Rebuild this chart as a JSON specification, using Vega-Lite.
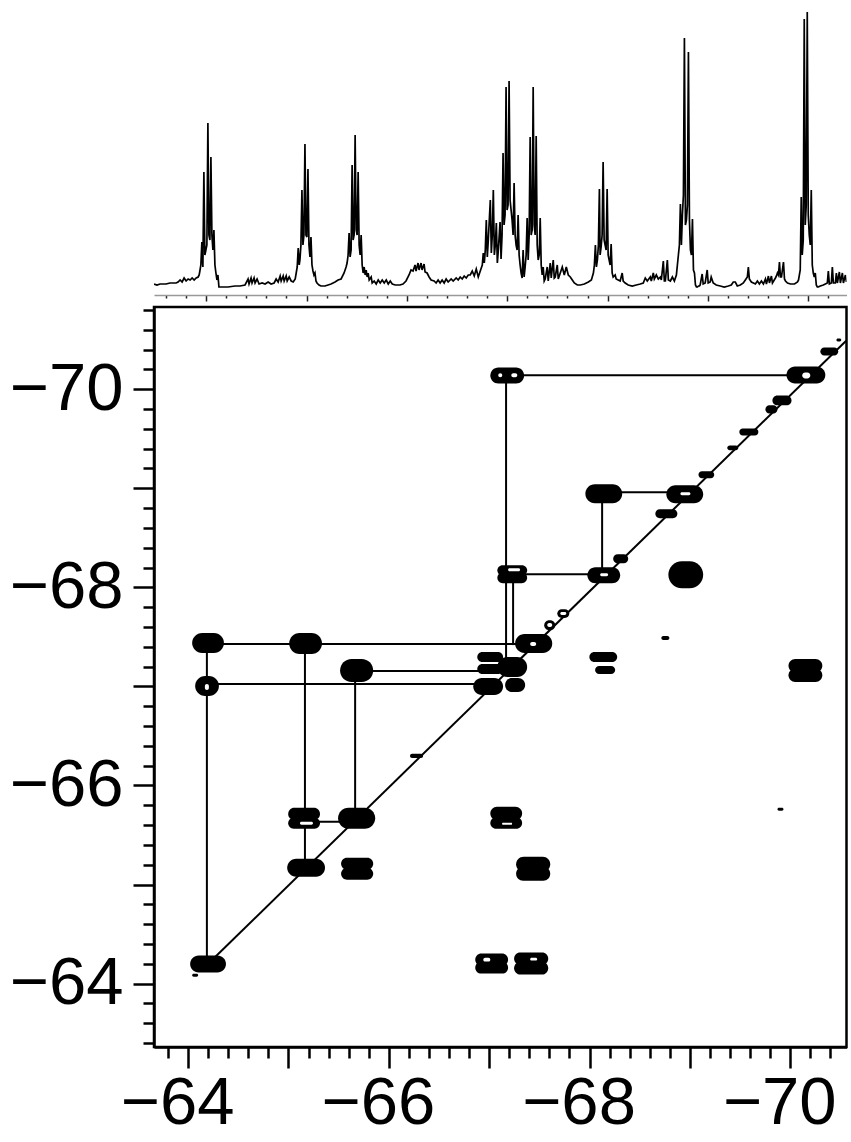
{"$schema":"https://vega.github.io/schema/vega-lite/v6.json","background":"white","padding":{"left":8,"top":0,"right":0,"bottom":0},"spacing":-28,"config":{"font":"Liberation Sans"},
"datasets":{"spectrum":[
{"ppm":-63.66,"i":11},{"ppm":-63.69,"i":10},{"ppm":-63.72,"i":11},{"ppm":-63.75,"i":11},{"ppm":-63.78,"i":11},{"ppm":-63.82,"i":12},{"ppm":-63.85,"i":12},{"ppm":-63.88,"i":12},{"ppm":-63.90,"i":13},{"ppm":-63.92,"i":15},{"ppm":-63.94,"i":13},{"ppm":-63.96,"i":17},{"ppm":-63.98,"i":14},{"ppm":-64.00,"i":16},{"ppm":-64.02,"i":15},{"ppm":-64.04,"i":17},{"ppm":-64.06,"i":15},{"ppm":-64.08,"i":17},{"ppm":-64.10,"i":18},{"ppm":-64.11,"i":20},
{"ppm":-64.117,"i":24},{"ppm":-64.127,"i":30},{"ppm":-64.137,"i":53},{"ppm":-64.147,"i":28},{"ppm":-64.157,"i":123},{"ppm":-64.167,"i":40},{"ppm":-64.177,"i":45},{"ppm":-64.187,"i":50},{"ppm":-64.197,"i":172},{"ppm":-64.207,"i":60},{"ppm":-64.217,"i":55},{"ppm":-64.227,"i":138},{"ppm":-64.237,"i":60},{"ppm":-64.247,"i":45},{"ppm":-64.257,"i":65},{"ppm":-64.267,"i":30},{"ppm":-64.277,"i":22},{"ppm":-64.287,"i":15},{"ppm":-64.297,"i":20},{"ppm":-64.307,"i":8},
{"ppm":-64.337,"i":8},{"ppm":-64.397,"i":8},{"ppm":-64.467,"i":9},{"ppm":-64.517,"i":9},{"ppm":-64.567,"i":10},{"ppm":-64.597,"i":16},{"ppm":-64.607,"i":11},{"ppm":-64.627,"i":17},{"ppm":-64.637,"i":12},{"ppm":-64.657,"i":17},{"ppm":-64.667,"i":12},{"ppm":-64.687,"i":16},{"ppm":-64.707,"i":11},{"ppm":-64.737,"i":12},{"ppm":-64.767,"i":11},{"ppm":-64.797,"i":13},{"ppm":-64.827,"i":11},{"ppm":-64.857,"i":12},{"ppm":-64.877,"i":16},{"ppm":-64.897,"i":13},{"ppm":-64.917,"i":19},{"ppm":-64.927,"i":14},{"ppm":-64.947,"i":19},{"ppm":-64.957,"i":14},{"ppm":-64.977,"i":19},{"ppm":-64.987,"i":14},{"ppm":-65.007,"i":18},{"ppm":-65.027,"i":14},{"ppm":-65.047,"i":13},{"ppm":-65.067,"i":16},
{"ppm":-65.077,"i":22},{"ppm":-65.087,"i":28},{"ppm":-65.097,"i":47},{"ppm":-65.107,"i":30},{"ppm":-65.114,"i":35},{"ppm":-65.124,"i":50},{"ppm":-65.134,"i":105},{"ppm":-65.144,"i":50},{"ppm":-65.154,"i":60},{"ppm":-65.164,"i":151},{"ppm":-65.174,"i":60},{"ppm":-65.184,"i":58},{"ppm":-65.194,"i":126},{"ppm":-65.204,"i":50},{"ppm":-65.214,"i":38},{"ppm":-65.224,"i":58},{"ppm":-65.234,"i":30},{"ppm":-65.244,"i":24},{"ppm":-65.254,"i":20},{"ppm":-65.264,"i":22},{"ppm":-65.274,"i":14},{"ppm":-65.284,"i":12},{"ppm":-65.304,"i":10},{"ppm":-65.324,"i":9},{"ppm":-65.364,"i":9},{"ppm":-65.394,"i":10},{"ppm":-65.424,"i":11},{"ppm":-65.464,"i":13},{"ppm":-65.494,"i":15},{"ppm":-65.524,"i":16},{"ppm":-65.554,"i":22},{"ppm":-65.574,"i":28},{"ppm":-65.584,"i":32},{"ppm":-65.594,"i":40},{"ppm":-65.604,"i":62},{"ppm":-65.614,"i":38},{"ppm":-65.624,"i":45},{"ppm":-65.634,"i":130},{"ppm":-65.644,"i":55},{"ppm":-65.654,"i":60},{"ppm":-65.664,"i":160},{"ppm":-65.674,"i":65},{"ppm":-65.684,"i":60},{"ppm":-65.694,"i":123},{"ppm":-65.704,"i":50},{"ppm":-65.714,"i":40},{"ppm":-65.724,"i":60},{"ppm":-65.734,"i":30},{"ppm":-65.744,"i":22},{"ppm":-65.754,"i":28},{"ppm":-65.764,"i":20},{"ppm":-65.774,"i":25},{"ppm":-65.784,"i":18},{"ppm":-65.794,"i":22},{"ppm":-65.804,"i":15},{"ppm":-65.824,"i":18},{"ppm":-65.834,"i":12},{"ppm":-65.854,"i":14},{"ppm":-65.874,"i":11},{"ppm":-65.894,"i":15},{"ppm":-65.914,"i":12},{"ppm":-65.934,"i":15},{"ppm":-65.954,"i":12},{"ppm":-65.974,"i":15},{"ppm":-65.994,"i":11},{"ppm":-66.014,"i":14},{"ppm":-66.034,"i":11},{"ppm":-66.064,"i":10},
{"ppm":-66.111,"i":10},{"ppm":-66.141,"i":11},{"ppm":-66.171,"i":14},{"ppm":-66.201,"i":20},{"ppm":-66.221,"i":25},{"ppm":-66.241,"i":24},{"ppm":-66.261,"i":30},{"ppm":-66.271,"i":24},{"ppm":-66.291,"i":32},{"ppm":-66.301,"i":25},{"ppm":-66.321,"i":32},{"ppm":-66.331,"i":25},{"ppm":-66.351,"i":31},{"ppm":-66.361,"i":23},{"ppm":-66.381,"i":22},{"ppm":-66.401,"i":18},{"ppm":-66.421,"i":15},{"ppm":-66.451,"i":14},{"ppm":-66.471,"i":12},{"ppm":-66.491,"i":15},{"ppm":-66.511,"i":12},{"ppm":-66.531,"i":15},{"ppm":-66.551,"i":12},{"ppm":-66.571,"i":16},{"ppm":-66.591,"i":13},{"ppm":-66.621,"i":16},{"ppm":-66.641,"i":14},{"ppm":-66.671,"i":17},{"ppm":-66.691,"i":15},{"ppm":-66.711,"i":18},{"ppm":-66.731,"i":16},{"ppm":-66.751,"i":19},{"ppm":-66.771,"i":17},{"ppm":-66.791,"i":20},{"ppm":-66.811,"i":20},{"ppm":-66.831,"i":24},{"ppm":-66.851,"i":19},{"ppm":-66.871,"i":26},{"ppm":-66.891,"i":18},{"ppm":-66.911,"i":24},{"ppm":-66.931,"i":30},{"ppm":-66.941,"i":42},{"ppm":-66.951,"i":32},{"ppm":-66.961,"i":45},{"ppm":-66.971,"i":75},{"ppm":-66.981,"i":38},{"ppm":-66.991,"i":55},{"ppm":-67.011,"i":95},{"ppm":-67.021,"i":42},{"ppm":-67.031,"i":60},{"ppm":-67.041,"i":105},{"ppm":-67.051,"i":40},{"ppm":-67.061,"i":50},{"ppm":-67.071,"i":72},{"ppm":-67.081,"i":32},{"ppm":-67.091,"i":45},
{"ppm":-67.108,"i":73},{"ppm":-67.118,"i":36},{"ppm":-67.128,"i":60},{"ppm":-67.138,"i":142},{"ppm":-67.148,"i":70},{"ppm":-67.158,"i":80},{"ppm":-67.168,"i":208},{"ppm":-67.178,"i":85},{"ppm":-67.188,"i":90},{"ppm":-67.198,"i":214},{"ppm":-67.208,"i":95},{"ppm":-67.218,"i":85},{"ppm":-67.228,"i":75},{"ppm":-67.238,"i":60},{"ppm":-67.248,"i":112},{"ppm":-67.258,"i":60},{"ppm":-67.268,"i":50},{"ppm":-67.278,"i":45},{"ppm":-67.288,"i":80},{"ppm":-67.298,"i":40},{"ppm":-67.308,"i":30},{"ppm":-67.318,"i":22},{"ppm":-67.328,"i":17},{"ppm":-67.338,"i":45},{"ppm":-67.348,"i":18},{"ppm":-67.358,"i":28},{"ppm":-67.368,"i":40},{"ppm":-67.378,"i":77},{"ppm":-67.388,"i":35},{"ppm":-67.398,"i":60},{"ppm":-67.408,"i":158},{"ppm":-67.418,"i":60},{"ppm":-67.428,"i":65},{"ppm":-67.438,"i":208},{"ppm":-67.448,"i":70},{"ppm":-67.458,"i":60},{"ppm":-67.468,"i":159},{"ppm":-67.478,"i":50},{"ppm":-67.488,"i":35},{"ppm":-67.498,"i":40},{"ppm":-67.508,"i":77},{"ppm":-67.518,"i":30},{"ppm":-67.528,"i":20},{"ppm":-67.538,"i":28},{"ppm":-67.548,"i":14},{"ppm":-67.558,"i":16},{"ppm":-67.578,"i":28},{"ppm":-67.588,"i":14},{"ppm":-67.608,"i":32},{"ppm":-67.618,"i":17},{"ppm":-67.638,"i":35},{"ppm":-67.648,"i":17},{"ppm":-67.658,"i":18},{"ppm":-67.678,"i":30},{"ppm":-67.688,"i":16},{"ppm":-67.708,"i":22},{"ppm":-67.728,"i":28},{"ppm":-67.748,"i":20},{"ppm":-67.768,"i":28},{"ppm":-67.788,"i":20},{"ppm":-67.808,"i":18},{"ppm":-67.828,"i":15},{"ppm":-67.848,"i":12},{"ppm":-67.878,"i":10},{"ppm":-67.908,"i":10},{"ppm":-67.948,"i":11},{"ppm":-67.988,"i":13},{"ppm":-68.018,"i":15},{"ppm":-68.038,"i":22},{"ppm":-68.048,"i":30},{"ppm":-68.058,"i":50},{"ppm":-68.068,"i":28},{"ppm":-68.078,"i":35},{"ppm":-68.088,"i":50},{"ppm":-68.098,"i":106},
{"ppm":-68.105,"i":40},{"ppm":-68.115,"i":48},{"ppm":-68.125,"i":60},{"ppm":-68.135,"i":133},{"ppm":-68.145,"i":55},{"ppm":-68.155,"i":50},{"ppm":-68.165,"i":45},{"ppm":-68.175,"i":106},{"ppm":-68.185,"i":40},{"ppm":-68.195,"i":35},{"ppm":-68.205,"i":30},{"ppm":-68.215,"i":51},{"ppm":-68.225,"i":22},{"ppm":-68.235,"i":18},{"ppm":-68.255,"i":20},{"ppm":-68.265,"i":16},{"ppm":-68.285,"i":15},{"ppm":-68.305,"i":14},{"ppm":-68.325,"i":22},{"ppm":-68.335,"i":14},{"ppm":-68.355,"i":12},{"ppm":-68.385,"i":10},{"ppm":-68.425,"i":9},{"ppm":-68.465,"i":10},{"ppm":-68.505,"i":11},{"ppm":-68.535,"i":12},{"ppm":-68.555,"i":17},{"ppm":-68.575,"i":14},{"ppm":-68.605,"i":18},{"ppm":-68.615,"i":14},{"ppm":-68.635,"i":22},{"ppm":-68.645,"i":16},{"ppm":-68.665,"i":20},{"ppm":-68.685,"i":16},{"ppm":-68.705,"i":18},{"ppm":-68.715,"i":15},{"ppm":-68.735,"i":34},{"ppm":-68.745,"i":14},{"ppm":-68.755,"i":14},{"ppm":-68.775,"i":35},{"ppm":-68.785,"i":15},{"ppm":-68.805,"i":14},{"ppm":-68.825,"i":18},{"ppm":-68.845,"i":14},{"ppm":-68.865,"i":20},{"ppm":-68.875,"i":30},{"ppm":-68.885,"i":40},{"ppm":-68.895,"i":50},{"ppm":-68.905,"i":91},{"ppm":-68.915,"i":50},{"ppm":-68.925,"i":80},{"ppm":-68.935,"i":100},{"ppm":-68.945,"i":257},{"ppm":-68.955,"i":70},{"ppm":-68.965,"i":75},{"ppm":-68.975,"i":90},{"ppm":-68.985,"i":243},{"ppm":-68.995,"i":75},{"ppm":-69.005,"i":45},{"ppm":-69.015,"i":40},{"ppm":-69.025,"i":76},{"ppm":-69.035,"i":25},{"ppm":-69.045,"i":22},{"ppm":-69.055,"i":10},{"ppm":-69.065,"i":8},{"ppm":-69.075,"i":8},{"ppm":-69.085,"i":9},{"ppm":-69.095,"i":9},
{"ppm":-69.102,"i":10},{"ppm":-69.122,"i":21},{"ppm":-69.132,"i":11},{"ppm":-69.152,"i":12},{"ppm":-69.172,"i":25},{"ppm":-69.182,"i":12},{"ppm":-69.202,"i":13},{"ppm":-69.212,"i":18},{"ppm":-69.232,"i":12},{"ppm":-69.262,"i":10},{"ppm":-69.302,"i":9},{"ppm":-69.342,"i":8},{"ppm":-69.382,"i":9},{"ppm":-69.412,"i":10},{"ppm":-69.432,"i":13},{"ppm":-69.452,"i":13},{"ppm":-69.472,"i":9},{"ppm":-69.502,"i":10},{"ppm":-69.532,"i":12},{"ppm":-69.552,"i":15},{"ppm":-69.572,"i":18},{"ppm":-69.582,"i":28},{"ppm":-69.592,"i":16},{"ppm":-69.612,"i":13},{"ppm":-69.632,"i":12},{"ppm":-69.652,"i":11},{"ppm":-69.672,"i":14},{"ppm":-69.692,"i":11},{"ppm":-69.712,"i":14},{"ppm":-69.732,"i":11},{"ppm":-69.752,"i":16},{"ppm":-69.762,"i":11},{"ppm":-69.782,"i":19},{"ppm":-69.792,"i":12},{"ppm":-69.812,"i":19},{"ppm":-69.822,"i":12},{"ppm":-69.852,"i":17},{"ppm":-69.862,"i":19},{"ppm":-69.872,"i":22},{"ppm":-69.882,"i":20},{"ppm":-69.892,"i":33},{"ppm":-69.902,"i":18},{"ppm":-69.912,"i":18},{"ppm":-69.932,"i":33},{"ppm":-69.942,"i":16},{"ppm":-69.952,"i":14},{"ppm":-69.972,"i":12},{"ppm":-70.002,"i":11},{"ppm":-70.042,"i":11},{"ppm":-70.072,"i":13},{"ppm":-70.082,"i":15},
{"ppm":-70.099,"i":25},{"ppm":-70.109,"i":98},{"ppm":-70.119,"i":40},{"ppm":-70.129,"i":55},{"ppm":-70.139,"i":276},{"ppm":-70.149,"i":70},{"ppm":-70.159,"i":90},{"ppm":-70.169,"i":283},{"ppm":-70.179,"i":80},{"ppm":-70.189,"i":60},{"ppm":-70.199,"i":50},{"ppm":-70.209,"i":105},{"ppm":-70.219,"i":30},{"ppm":-70.229,"i":22},{"ppm":-70.239,"i":18},{"ppm":-70.249,"i":22},{"ppm":-70.259,"i":10},{"ppm":-70.269,"i":8},{"ppm":-70.279,"i":8},{"ppm":-70.299,"i":9},{"ppm":-70.329,"i":10},{"ppm":-70.349,"i":11},{"ppm":-70.369,"i":12},{"ppm":-70.379,"i":24},{"ppm":-70.389,"i":11},{"ppm":-70.409,"i":12},{"ppm":-70.419,"i":28},{"ppm":-70.429,"i":12},{"ppm":-70.449,"i":12},{"ppm":-70.459,"i":22},{"ppm":-70.469,"i":12},{"ppm":-70.489,"i":23},{"ppm":-70.499,"i":12},{"ppm":-70.519,"i":22},{"ppm":-70.529,"i":12},{"ppm":-70.549,"i":20},{"ppm":-70.559,"i":13}
],
"links":[
{"x1":-64.2,"x2":-70.557,"y1":-64.2,"y2":-70.49},
{"x1":-64.187,"x2":-64.187,"y1":-64.202,"y2":-67.427},
{"x1":-64.187,"x2":-67.438,"y1":-67.427,"y2":-67.427},
{"x1":-64.187,"x2":-67.011,"y1":-67.024,"y2":-67.024},
{"x1":-65.664,"x2":-67.228,"y1":-67.155,"y2":-67.155},
{"x1":-65.164,"x2":-65.164,"y1":-67.427,"y2":-65.17},
{"x1":-65.664,"x2":-65.664,"y1":-67.155,"y2":-65.663},
{"x1":-65.164,"x2":-65.664,"y1":-65.633,"y2":-65.633},
{"x1":-67.168,"x2":-67.168,"y1":-70.14,"y2":-67.266},
{"x1":-67.168,"x2":-70.159,"y1":-70.14,"y2":-70.14},
{"x1":-67.238,"x2":-67.238,"y1":-68.133,"y2":-67.417},
{"x1":-67.238,"x2":-68.125,"y1":-68.133,"y2":-68.133},
{"x1":-68.125,"x2":-68.125,"y1":-68.96,"y2":-68.133},
{"x1":-68.125,"x2":-68.965,"y1":-68.96,"y2":-68.96}
],
"contours":[
{"x1":-64.02,"x2":-64.377,"y1":-64.283,"y2":-64.111},
{"x1":-64.04,"x2":-64.10,"y1":-64.10,"y2":-64.07},
{"x1":-64.987,"x2":-65.364,"y1":-65.26,"y2":-65.079},
{"x1":-65.494,"x2":-65.864,"y1":-65.774,"y2":-65.563},
{"x1":-64.997,"x2":-65.314,"y1":-65.774,"y2":-65.65},
{"x1":-64.997,"x2":-65.314,"y1":-65.673,"y2":-65.563},
{"x1":-65.524,"x2":-65.844,"y1":-65.27,"y2":-65.15},
{"x1":-65.524,"x2":-65.844,"y1":-65.17,"y2":-65.049},
{"x1":-64.04,"x2":-64.357,"y1":-67.538,"y2":-67.337},
{"x1":-64.07,"x2":-64.307,"y1":-67.105,"y2":-66.903},
{"x1":-65.007,"x2":-65.334,"y1":-67.538,"y2":-67.327},
{"x1":-65.514,"x2":-65.844,"y1":-67.276,"y2":-67.044},
{"x1":-67.011,"x2":-67.328,"y1":-65.784,"y2":-65.65},
{"x1":-67.011,"x2":-67.328,"y1":-65.68,"y2":-65.563},
{"x1":-67.268,"x2":-67.608,"y1":-65.28,"y2":-65.13},
{"x1":-67.268,"x2":-67.608,"y1":-65.18,"y2":-65.039},
{"x1":-66.861,"x2":-67.188,"y1":-64.303,"y2":-64.18},
{"x1":-66.861,"x2":-67.188,"y1":-64.22,"y2":-64.101},
{"x1":-67.248,"x2":-67.588,"y1":-64.313,"y2":-64.19},
{"x1":-67.248,"x2":-67.588,"y1":-64.22,"y2":-64.091},
{"x1":-67.958,"x2":-68.325,"y1":-69.04,"y2":-68.849},
{"x1":-68.765,"x2":-69.132,"y1":-69.03,"y2":-68.849},
{"x1":-68.655,"x2":-68.875,"y1":-68.788,"y2":-68.698},
{"x1":-69.085,"x2":-69.242,"y1":-69.171,"y2":-69.101},
{"x1":-67.081,"x2":-67.378,"y1":-68.224,"y2":-68.12},
{"x1":-67.081,"x2":-67.378,"y1":-68.15,"y2":-68.042},
{"x1":-67.978,"x2":-68.305,"y1":-68.204,"y2":-68.042},
{"x1":-68.785,"x2":-69.132,"y1":-68.264,"y2":-67.992},
{"x1":-68.235,"x2":-68.385,"y1":-68.335,"y2":-68.244},
{"x1":-67.258,"x2":-67.628,"y1":-67.528,"y2":-67.337},
{"x1":-66.881,"x2":-67.138,"y1":-67.347,"y2":-67.246},
{"x1":-66.881,"x2":-67.138,"y1":-67.226,"y2":-67.125},
{"x1":-67.081,"x2":-67.378,"y1":-67.296,"y2":-67.095},
{"x1":-66.841,"x2":-67.138,"y1":-67.085,"y2":-66.913},
{"x1":-67.158,"x2":-67.358,"y1":-67.085,"y2":-66.944},
{"x1":-67.548,"x2":-67.658,"y1":-67.669,"y2":-67.568},
{"x1":-67.678,"x2":-67.798,"y1":-67.78,"y2":-67.69},
{"x1":-67.998,"x2":-68.275,"y1":-67.347,"y2":-67.246},
{"x1":-68.055,"x2":-68.255,"y1":-67.206,"y2":-67.125},
{"x1":-68.715,"x2":-68.795,"y1":-67.508,"y2":-67.468},
{"x1":-69.962,"x2":-70.349,"y1":-70.23,"y2":-70.058},
{"x1":-69.822,"x2":-70.012,"y1":-69.937,"y2":-69.837},
{"x1":-69.752,"x2":-69.872,"y1":-69.837,"y2":-69.756},
{"x1":-69.492,"x2":-69.682,"y1":-69.604,"y2":-69.534},
{"x1":-69.372,"x2":-69.482,"y1":-69.433,"y2":-69.383},
{"x1":-70.299,"x2":-70.478,"y1":-70.421,"y2":-70.341},
{"x1":-70.459,"x2":-70.508,"y1":-70.512,"y2":-70.482},
{"x1":-67.011,"x2":-67.348,"y1":-70.22,"y2":-70.058},
{"x1":-69.872,"x2":-69.932,"y1":-65.774,"y2":-65.744},
{"x1":-66.211,"x2":-66.341,"y1":-66.319,"y2":-66.278},
{"x1":-69.982,"x2":-70.319,"y1":-67.276,"y2":-67.14},
{"x1":-69.982,"x2":-70.319,"y1":-67.18,"y2":-67.044}
],
"holes":[
{"x1":-67.578,"x2":-67.628,"y1":-67.639,"y2":-67.599},
{"x1":-67.708,"x2":-67.768,"y1":-67.75,"y2":-67.72},
{"x1":-67.09,"x2":-67.13,"y1":-70.16,"y2":-70.12},
{"x1":-67.22,"x2":-67.28,"y1":-70.16,"y2":-70.12},
{"x1":-70.119,"x2":-70.199,"y1":-70.169,"y2":-70.109},
{"x1":-68.905,"x2":-69.005,"y1":-68.96,"y2":-68.93},
{"x1":-67.188,"x2":-67.308,"y1":-68.194,"y2":-68.163},
{"x1":-64.167,"x2":-64.207,"y1":-67.024,"y2":-66.964},
{"x1":-65.114,"x2":-65.244,"y1":-65.633,"y2":-65.603},
{"x1":-67.128,"x2":-67.228,"y1":-65.623,"y2":-65.603},
{"x1":-67.408,"x2":-67.468,"y1":-67.448,"y2":-67.407},
{"x1":-66.941,"x2":-67.011,"y1":-64.262,"y2":-64.222},
{"x1":-67.408,"x2":-67.478,"y1":-64.262,"y2":-64.232},
{"x1":-68.105,"x2":-68.185,"y1":-68.143,"y2":-68.113}
]},
"vconcat":[
{"width":692.5,"height":295,"view":{"stroke":null},"data":{"name":"spectrum"},"mark":{"type":"line","color":"black","strokeWidth":1.7,"strokeJoin":"miter","clip":true},
"encoding":{"x":{"field":"ppm","type":"quantitative","title":null,"scale":{"domain":[-63.66,-70.56],"nice":false,"zero":false},
"axis":{"grid":false,"orient":"bottom","labels":false,"title":null,"domainColor":"#999999","domainWidth":1.5,"tickColor":"#222222","tickWidth":1.5,"values":[-63.78,-63.98,-64.18,-64.38,-64.58,-64.78,-64.98,-65.18,-65.38,-65.58,-65.78,-65.98,-66.18,-66.38,-66.58,-66.78,-66.98,-67.18,-67.38,-67.58,-67.78,-67.98,-68.18,-68.38,-68.58,-68.78,-68.98,-69.18,-69.38,-69.58,-69.78,-69.98,-70.18,-70.38],"tickSize":{"condition":{"test":"abs(datum.value+0.18-round(datum.value+0.18))<0.02","value":6},"value":3}}},
"y":{"field":"i","type":"quantitative","title":null,"scale":{"domain":[0,295],"nice":false},"axis":null}}},
{"width":692.5,"height":740,"view":{"stroke":"black","strokeWidth":2.5},
"encoding":{"x":{"field":"x1","type":"quantitative","title":null,"scale":{"domain":[-63.66,-70.56],"nice":false,"zero":false},
"axis":{"grid":false,"orient":"bottom","title":null,"domainColor":"black","domainWidth":2.5,"tickColor":"black","tickWidth":2.5,"labelColor":"black","labelFont":"Liberation Sans","labelFontSize":67,"labelPadding":2,"labelOverlap":false,"labelFlush":false,"labelBound":false,"labelOffset":-11,"labelExpr":"abs(datum.value%2)<0.001 ? '−'+abs(datum.value) : ''","values":[-63.8,-64,-64.2,-64.4,-64.6,-64.8,-65,-65.2,-65.4,-65.6,-65.8,-66,-66.2,-66.4,-66.6,-66.8,-67,-67.2,-67.4,-67.6,-67.8,-68,-68.2,-68.4,-68.6,-68.8,-69,-69.2,-69.4,-69.6,-69.8,-70,-70.2,-70.4],"tickSize":{"condition":{"test":"abs(datum.value-round(datum.value))<0.01","value":21},"value":11}}},
"y":{"field":"y1","type":"quantitative","title":null,"scale":{"domain":[-63.36,-70.83],"nice":false,"zero":false},
"axis":{"grid":false,"orient":"left","title":null,"domainColor":"black","domainWidth":2.5,"tickColor":"black","tickWidth":2.5,"labelColor":"black","labelFont":"Liberation Sans","labelFontSize":67,"labelPadding":10,"labelOverlap":false,"labelFlush":false,"labelBound":false,"labelExpr":"abs(datum.value%2)<0.001 ? '−'+abs(datum.value) : ''","values":[-63.4,-63.6,-63.8,-64,-64.2,-64.4,-64.6,-64.8,-65,-65.2,-65.4,-65.6,-65.8,-66,-66.2,-66.4,-66.6,-66.8,-67,-67.2,-67.4,-67.6,-67.8,-68,-68.2,-68.4,-68.6,-68.8,-69,-69.2,-69.4,-69.6,-69.8,-70,-70.2,-70.4,-70.6,-70.8],"tickSize":{"condition":{"test":"abs(datum.value-round(datum.value))<0.01","value":21},"value":11}}},
"x2":{"field":"x2"},"y2":{"field":"y2"}},
"layer":[
{"data":{"name":"links"},"mark":{"type":"rule","color":"black","strokeWidth":2}},
{"data":{"name":"contours"},"mark":{"type":"rect","color":"black","cornerRadius":20}},
{"data":{"name":"holes"},"mark":{"type":"rect","color":"white","cornerRadius":3}}
]}
]}
